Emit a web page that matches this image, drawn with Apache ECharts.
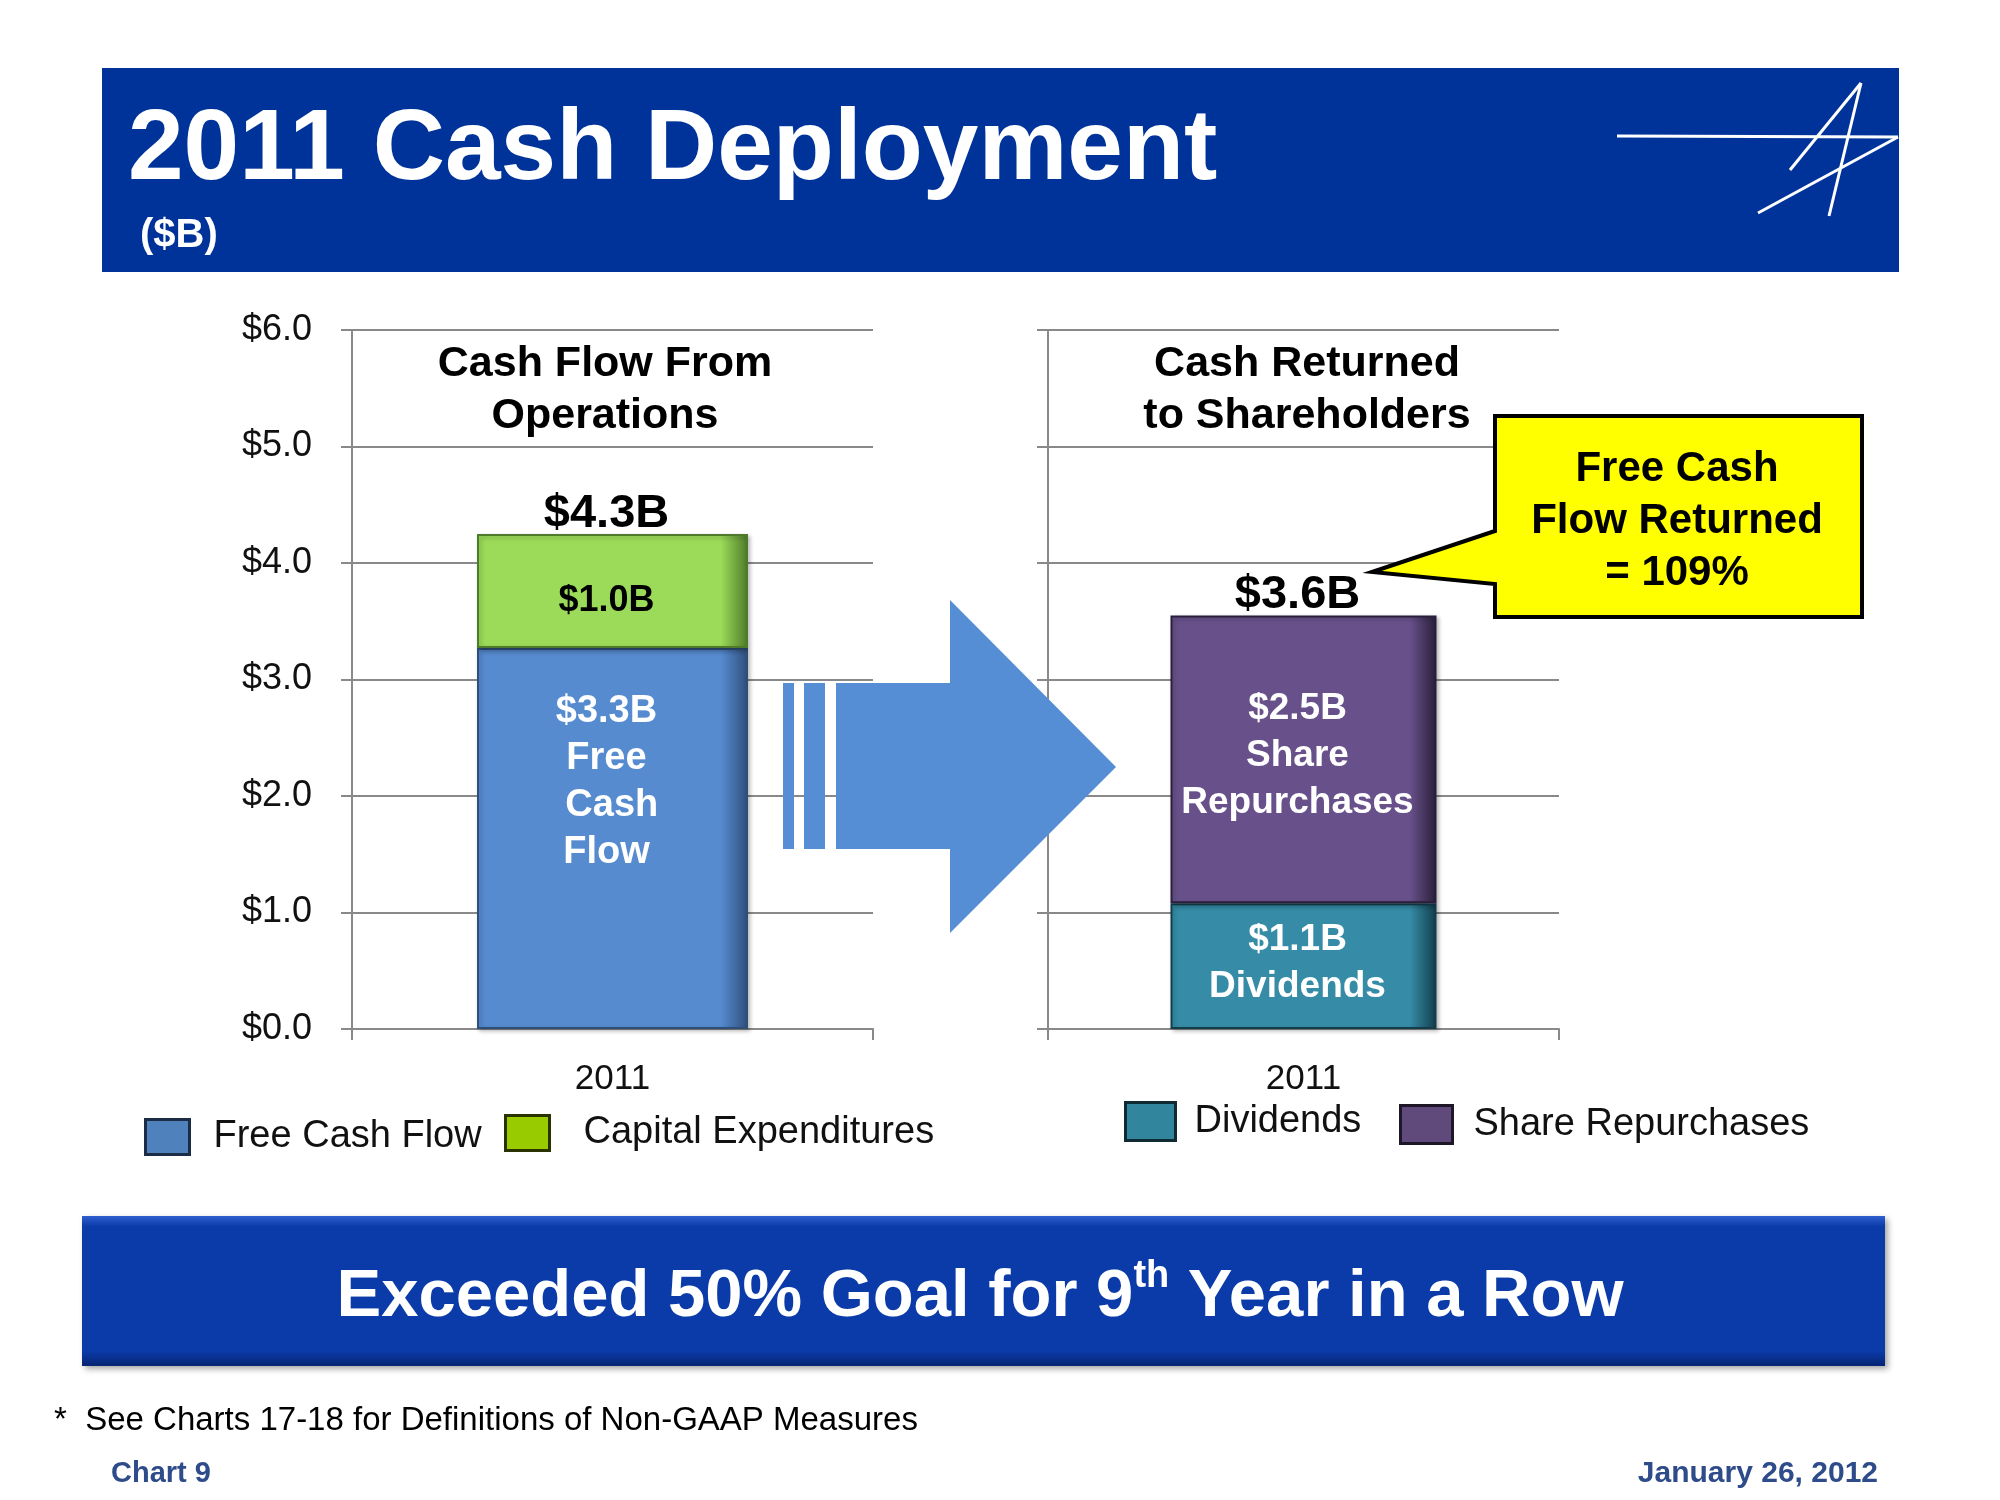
<!DOCTYPE html>
<html><head><meta charset="utf-8">
<script src="https://cdn.jsdelivr.net/npm/echarts@6/dist/echarts.min.js"></script>
<style>html,body{margin:0;padding:0;background:#fff}#c{width:2000px;height:1500px}</style>
</head><body><div id="c"></div>
<script>
// ---- data ----
const categories = ['2011'];
const freeCashFlow = [3.27];
const capitalExpenditures = [0.98];
const cfoTotal = [4.25];
const dividends = [1.08];
const shareRepurchases = [2.47];
const returnedTotal = [3.55];
const fcfLabels = ['$3.3B\nFree\n Cash\nFlow'];
const capexLabels = ['$1.0B'];
const divLabels = ['$1.1B\nDividends'];
const repLabels = ['$2.5B\nShare\nRepurchases'];
const cfoTotalLabels = ['$4.3B'];
const returnedTotalLabels = ['$3.6B'];
const yMin = 0, yMax = 6, yStep = 1;

const FF = '"Liberation Sans", Arial, sans-serif';
const GRID = '#898989';

function yAxis(gi, showLabels) {
  return {
    type: 'value', gridIndex: gi, min: yMin, max: yMax, interval: yStep,
    axisLine: {show: true, lineStyle: {color: GRID, width: 2}},
    axisTick: {show: true, length: 11, lineStyle: {color: GRID, width: 2}},
    splitLine: {show: true, lineStyle: {color: GRID, width: 2}},
    axisLabel: {show: showLabels, margin: 40, fontSize: 36, color: '#111', fontFamily: FF,
      formatter: v => '$' + v.toFixed(1)}
  };
}
function xAxis(gi) {
  return {
    type: 'category', gridIndex: gi, data: categories,
    axisLine: {show: true, lineStyle: {color: GRID, width: 2}},
    axisTick: {show: true, length: 11, lineStyle: {color: GRID, width: 2}},
    axisLabel: {margin: 33, fontSize: 35, color: '#111', fontFamily: FF}
  };
}
function grad(base, dark) {
  return {type: 'linear', x: 0, y: 0, x2: 1, y2: 0, colorStops: [
    {offset: 0, color: base}, {offset: 0.9, color: base}, {offset: 1, color: dark}]};
}
function barStyle(base, dark) {
  return {color: grad(base, dark), borderColor: dark, borderWidth: 2,
    shadowColor: 'rgba(0,0,0,0.25)', shadowBlur: 4, shadowOffsetX: 2, shadowOffsetY: 2};
}
function totalSeries(name, gi, vals, labels) {
  return {name: name, type: 'scatter', xAxisIndex: gi, yAxisIndex: gi, symbol: 'circle', symbolSize: 0.01,
    silent: true, itemStyle: {color: '#000', opacity: 1},
    data: vals.map((v, i) => [i, v]),
    label: {show: true, position: 'top', distance: 0, offset: [-6, 4], color: '#000', opacity: 1,
      fontSize: 47, fontWeight: 'bold', fontFamily: FF, lineHeight: 48,
      formatter: p => labels[p.dataIndex]}};
}

const chart = echarts.init(document.getElementById('c'), null, {renderer: 'canvas'});
chart.setOption({
  animation: false,
  backgroundColor: '#fff',
  grid: [
    {left: 352, top: 330, width: 521, height: 699},
    {left: 1048, top: 330, width: 511, height: 699}
  ],
  xAxis: [xAxis(0), xAxis(1)],
  yAxis: [yAxis(0, true), yAxis(1, false)],
  legend: [
    {data: [{name: 'Free Cash Flow', itemStyle: {color: '#4F81BD', borderColor: '#1b2c44', borderWidth: 3}}],
     left: 144, top: 1118, padding: 0, itemWidth: 44, itemHeight: 35, icon: 'rect', selectedMode: false,
     textStyle: {fontSize: 38, color: '#111', fontFamily: FF, padding: [0, 0, 0, 19]}},
    {data: [{name: 'Capital Expenditures', itemStyle: {color: '#99CC00', borderColor: '#2a3300', borderWidth: 3}}],
     left: 504, top: 1114, padding: 0, itemWidth: 44, itemHeight: 35, icon: 'rect', selectedMode: false,
     textStyle: {fontSize: 38, color: '#111', fontFamily: FF, padding: [0, 0, 0, 29]}},
    {data: [{name: 'Dividends', itemStyle: {color: '#31859C', borderColor: '#0f2a33', borderWidth: 3}}],
     left: 1124, top: 1101, padding: 0, itemWidth: 50, itemHeight: 38, icon: 'rect', selectedMode: false,
     textStyle: {fontSize: 38, color: '#111', fontFamily: FF, padding: [0, 0, 0, 14]}},
    {data: [{name: 'Share Repurchases', itemStyle: {color: '#604A7B', borderColor: '#1e1728', borderWidth: 3}}],
     left: 1399, top: 1104, padding: 0, itemWidth: 52, itemHeight: 38, icon: 'rect', selectedMode: false,
     textStyle: {fontSize: 38, color: '#111', fontFamily: FF, padding: [0, 0, 0, 16]}}
  ],
  series: [
    {name: 'Free Cash Flow', type: 'bar', xAxisIndex: 0, yAxisIndex: 0, stack: 'cfo', barWidth: 271,
     data: freeCashFlow, itemStyle: barStyle('#568BD0', '#2f4f7a'),
     label: {show: true, position: 'insideTop', distance: 40, offset: [-6, 0], color: '#fff', fontSize: 38, fontWeight: 'bold',
       fontFamily: FF, lineHeight: 47, formatter: p => fcfLabels[p.dataIndex]}},
    {name: 'Capital Expenditures', type: 'bar', xAxisIndex: 0, yAxisIndex: 0, stack: 'cfo', barWidth: 271,
     data: capitalExpenditures, itemStyle: barStyle('#9BDB59', '#4f7a2a'),
     label: {show: true, position: 'inside', offset: [-6, 10], color: '#000', fontSize: 36, fontWeight: 'bold',
       fontFamily: FF, formatter: p => capexLabels[p.dataIndex]}},
    totalSeries('CFO Total', 0, cfoTotal, cfoTotalLabels),
    {name: 'Dividends', type: 'bar', xAxisIndex: 1, yAxisIndex: 1, stack: 'ret', barWidth: 266,
     data: dividends, itemStyle: barStyle('#368CA7', '#123e4c'),
     label: {show: true, position: 'insideTop', distance: 13, offset: [-6, 0], color: '#fff', fontSize: 37, fontWeight: 'bold',
       fontFamily: FF, lineHeight: 47, formatter: p => divLabels[p.dataIndex]}},
    {name: 'Share Repurchases', type: 'bar', xAxisIndex: 1, yAxisIndex: 1, stack: 'ret', barWidth: 266,
     data: shareRepurchases, itemStyle: barStyle('#68518A', '#2a1f3a'),
     label: {show: true, position: 'insideTop', distance: 70, offset: [-6, 0], color: '#fff', fontSize: 37, fontWeight: 'bold',
       fontFamily: FF, lineHeight: 47, formatter: p => repLabels[p.dataIndex]}},
    totalSeries('Returned Total', 1, returnedTotal, returnedTotalLabels)
  ],
  graphic: [
    // header band
    {type: 'rect', z: 1, shape: {x: 102, y: 68, width: 1797, height: 204}, style: {fill: '#003399'}},
    {type: 'text', z: 2, style: {text: '2011 Cash Deployment', x: 128, y: 151, fill: '#fff',
      font: 'bold 100px ' + FF, verticalAlign: 'middle', textAlign: 'left'}},
    {type: 'text', z: 2, style: {text: '($B)', x: 140, y: 236, fill: '#fff',
      font: 'bold 40px ' + FF, verticalAlign: 'middle', textAlign: 'left'}},
    // logo
    {type: 'line', z: 2, shape: {x1: 1617, y1: 136, x2: 1898, y2: 137}, style: {stroke: '#fff', lineWidth: 3}},
    {type: 'line', z: 2, shape: {x1: 1898, y1: 137, x2: 1758, y2: 213}, style: {stroke: '#fff', lineWidth: 3}},
    {type: 'line', z: 2, shape: {x1: 1861, y1: 83, x2: 1790, y2: 170}, style: {stroke: '#fff', lineWidth: 3}},
    {type: 'line', z: 2, shape: {x1: 1861, y1: 83, x2: 1829, y2: 216}, style: {stroke: '#fff', lineWidth: 3}},
    // chart titles
    {type: 'text', z: 5, style: {text: 'Cash Flow From\nOperations', x: 605, y: 390, fill: '#000',
      font: 'bold 43px ' + FF, lineHeight: 52, verticalAlign: 'middle', textAlign: 'center'}},
    {type: 'text', z: 5, style: {text: 'Cash Returned\nto Shareholders', x: 1307, y: 390, fill: '#000',
      font: 'bold 43px ' + FF, lineHeight: 52, verticalAlign: 'middle', textAlign: 'center'}},
    // big arrow
    {type: 'rect', z: 50, shape: {x: 783, y: 683, width: 11, height: 166}, style: {fill: '#558ED5'}},
    {type: 'rect', z: 50, shape: {x: 804, y: 683, width: 21, height: 166}, style: {fill: '#558ED5'}},
    {type: 'polygon', z: 50, shape: {points: [[836, 683], [950, 683], [950, 600], [1116, 767], [950, 933], [950, 849], [836, 849]]},
      style: {fill: '#558ED5'}},
    // callout
    {type: 'polygon', z: 50, shape: {points: [[1495, 416], [1862, 416], [1862, 617], [1495, 617], [1495, 584], [1372, 572], [1495, 531]]},
      style: {fill: '#FFFF00', stroke: '#000', lineWidth: 4}},
    {type: 'text', z: 51, style: {text: 'Free Cash\nFlow Returned\n= 109%', x: 1677, y: 521, fill: '#000',
      font: 'bold 42px ' + FF, lineHeight: 52, verticalAlign: 'middle', textAlign: 'center'}},
    // bottom banner
    {type: 'rect', z: 1, shape: {x: 82, y: 1216, width: 1803, height: 150},
      style: {fill: {type: 'linear', x: 0, y: 0, x2: 0, y2: 1, colorStops: [
        {offset: 0, color: '#2f5fd0'}, {offset: 0.07, color: '#0B3BA8'}, {offset: 0.9, color: '#0B3BA8'}, {offset: 1, color: '#052473'}]},
        shadowColor: 'rgba(0,0,0,0.35)', shadowBlur: 6, shadowOffsetX: 3, shadowOffsetY: 3}},
    {type: 'text', z: 2, style: {text: '{a|Exceeded 50% Goal for 9}{s|th}{a| Year in a Row}', x: 980, y: 1298,
      textAlign: 'center', verticalAlign: 'middle', fill: '#fff',
      rich: {a: {fontSize: 67, fontWeight: 'bold', fontFamily: FF, color: '#fff', lineHeight: 80},
             s: {fontSize: 38, fontWeight: 'bold', fontFamily: FF, color: '#fff', lineHeight: 60, verticalAlign: 'top'}}}},
    // footer
    {type: 'text', z: 2, style: {text: '*  See Charts 17-18 for Definitions of Non-GAAP Measures', x: 54, y: 1421,
      fill: '#000', font: '33px ' + FF, verticalAlign: 'middle', textAlign: 'left'}},
    {type: 'text', z: 2, style: {text: 'Chart 9', x: 111, y: 1474, fill: '#2E4B8A',
      font: 'bold 29px ' + FF, verticalAlign: 'middle', textAlign: 'left'}},
    {type: 'text', z: 2, style: {text: 'January 26, 2012', x: 1878, y: 1474, fill: '#2E4B8A',
      font: 'bold 30px ' + FF, verticalAlign: 'middle', textAlign: 'right'}}
  ]
});
</script></body></html>
